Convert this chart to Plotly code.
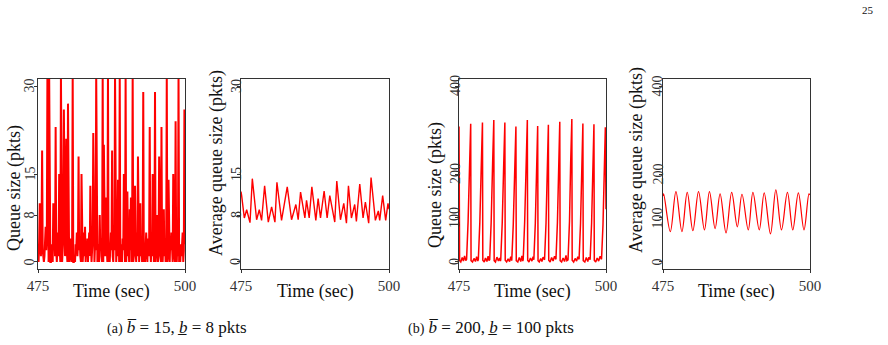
import numpy as np
import plotly.graph_objects as go

# ---------------- data ----------------
# (a) instantaneous queue, sampled every 0.1 s from 475 to 500
queue_a = [
    2, 0, 4, 10, 3, 1, 5, 19, 2, 0,
    0, 1, 3, 6, 2, 4, 32, 3, 0, 32,
    0, 0, 0, 1, 3, 0, 10, 2, 4, 1,
    23, 2, 0, 3, 5, 1, 15, 2, 0, 32,
    0, 0, 2, 4, 26, 3, 1, 5, 21, 2,
    0, 27, 3, 0, 1, 4, 2, 0, 3, 32,
    0, 0, 1, 0, 3, 2, 5, 1, 3, 18,
    2, 4, 1, 0, 15, 3, 0, 2, 5, 1,
    6, 0, 3, 1, 4, 0, 2, 5, 1, 13,
    3, 0, 2, 4, 22, 1, 0, 3, 2, 32,
    0, 0, 1, 3, 0, 8, 2, 4, 1, 0,
    32, 0, 20, 3, 1, 4, 11, 2, 0, 32,
    0, 1, 0, 3, 5, 2, 19, 1, 0, 4,
    2, 32, 9, 0, 3, 1, 14, 2, 0, 32,
    0, 1, 3, 0, 4, 2, 15, 1, 0, 32,
    0, 3, 12, 1, 4, 0, 9, 2, 11, 0,
    3, 32, 0, 1, 4, 13, 2, 0, 5, 1,
    18, 3, 0, 2, 10, 1, 4, 0, 3, 29,
    0, 1, 0, 3, 5, 2, 0, 4, 1, 3,
    23, 2, 0, 4, 1, 15, 3, 0, 2, 29,
    0, 1, 3, 8, 0, 2, 18, 4, 1, 0,
    23, 2, 0, 3, 9, 1, 4, 0, 2, 32,
    0, 1, 14, 3, 0, 4, 2, 5, 1, 0,
    15, 3, 1, 0, 24, 2, 0, 4, 1, 32,
    0, 2, 0, 3, 1, 4, 5, 0, 2, 26, 3,
]
time_a = np.linspace(475, 500, len(queue_a))

# (a) average queue
avg_a_t = [475.0, 475.11, 475.56, 475.96, 476.52, 476.91, 477.64, 478.09, 478.48, 478.99,
           479.61, 480.17, 480.73, 481.07, 481.85, 482.81, 483.54, 484.27, 484.66, 485.06,
           485.79, 486.07, 486.52, 486.97, 487.64, 488.03, 488.43, 489.04, 489.55, 490.0,
           490.84, 491.18, 491.80, 492.36, 492.81, 493.15, 493.65, 494.21, 494.49, 495.06,
           495.62, 496.01, 496.57, 496.97, 497.70, 498.20, 498.43, 498.93, 499.44, 499.83, 500.0]
avg_a_v = [12.0, 11.3, 7.5, 8.9, 6.7, 14.2, 7.2, 8.9, 7.1, 13.0,
           6.8, 9.4, 6.8, 13.6, 7.1, 12.8, 7.2, 9.8, 7.2, 11.9,
           7.5, 10.5, 7.5, 12.8, 7.1, 10.8, 7.5, 12.1, 7.5, 11.3,
           6.8, 13.8, 7.2, 10.0, 6.6, 13.0, 7.5, 9.8, 6.9, 13.3,
           7.5, 10.2, 6.6, 14.4, 7.1, 8.7, 7.1, 11.3, 7.1, 10.0, 9.0]

# (b) instantaneous queue (vertices)
queue_b_t = [475.0, 475.1, 475.3, 475.55, 475.75, 475.95, 476.15,
             476.29, 476.54, 476.79, 476.99, 477.05, 477.3, 477.55, 477.8, 478.0, 478.2,
             478.29, 478.54, 478.79, 478.99, 479.05, 479.3, 479.5, 479.75, 479.95, 480.1,
             480.22, 480.47, 480.72, 480.92, 480.98, 481.2, 481.45, 481.7, 481.9, 482.05,
             482.10, 482.35, 482.60, 482.80, 482.86, 483.1, 483.35, 483.6, 483.8, 483.95,
             483.98, 484.23, 484.48, 484.68, 484.74, 485.0, 485.25, 485.5, 485.7, 485.85,
             485.92, 486.17, 486.42, 486.62, 486.68, 486.9, 487.15, 487.4, 487.6,
             487.73, 487.98, 488.18, 488.38, 488.44, 488.65, 488.9, 489.1, 489.3,
             489.55, 489.8, 490.0, 490.20, 490.26, 490.5, 490.75, 491.0, 491.25,
             491.49, 491.74, 491.94, 492.14, 492.2, 492.45, 492.7, 492.95, 493.2, 493.35,
             493.54, 493.79, 493.99, 494.19, 494.25, 494.5, 494.75, 495.0, 495.2,
             495.42, 495.67, 495.87, 496.07, 496.13, 496.4, 496.65, 496.9, 497.1,
             497.30, 497.55, 497.75, 497.95, 498.01, 498.25, 498.5, 498.75, 499.0,
             499.24, 499.49, 499.69, 499.89, 500.0]
queue_b_v = [308, 3, 0, 10, 2, 14, 3,
             6, 90, 220, 314, 3, 0, 8, 1, 12, 2,
             6, 90, 220, 317, 4, 0, 9, 1, 13, 3,
             5, 90, 225, 323, 3, 0, 11, 2, 9, 2,
             6, 88, 220, 317, 4, 0, 7, 1, 12, 3,
             5, 85, 212, 308, 3, 0, 10, 1, 14, 2,
             6, 92, 225, 323, 4, 0, 9, 2, 12,
             5, 88, 212, 309, 3, 0, 8, 1, 11,
             5, 88, 215, 312, 4, 0, 10, 2, 13,
             6, 90, 220, 319, 3, 0, 9, 1, 15, 3,
             5, 92, 225, 325, 4, 0, 8, 2, 12,
             6, 88, 218, 315, 3, 0, 10, 1, 11,
             5, 88, 216, 313, 4, 0, 9, 2, 13,
             6, 85, 210, 306, 120]

# (b) average queue (alternating extremes)
avg_b_t = [475.0, 475.11, 476.24, 477.20, 478.22, 479.12, 480.08, 481.04, 482.05, 482.90,
           483.86, 484.71, 485.72, 486.68, 487.64, 488.43, 489.50, 490.29, 491.37, 492.21,
           493.28, 494.19, 495.15, 496.16, 497.07, 498.02, 498.98, 499.83, 500.0]
avg_b_v = [150, 155, 69, 160, 69, 158, 71, 160, 73, 160,
           76, 155, 66, 158, 80, 154, 73, 158, 73, 157,
           64, 164, 73, 158, 73, 157, 73, 155, 152]

ticks_a = [0, 8, 15, 30]
ticks_b = [0, 100, 200, 400]
x_ticks = [475, 500]

# ---------------- layout helpers ----------------
W, H = 888, 345
def px_x(p):
    return p / W
def px_y(p):
    return 1 - p / H

panels = [(38, 185), (241, 389), (459, 606), (663, 810)]
ytick_x = [29.5, 236, 455, 657.5]   # centre of the rotated y tick labels
top, bottom = 79, 269
FF = "Liberation Serif"
RED = "#ff0000"

fig = go.Figure()
series = [
    (time_a, queue_a, 2.0, "linear"),
    (avg_a_t, avg_a_v, 1.4, "linear"),
    (queue_b_t, queue_b_v, 1.5, "linear"),
    (avg_b_t, avg_b_v, 1.2, "spline"),
]
for i, (xs, ys, w, shp) in enumerate(series):
    ax = "" if i == 0 else str(i + 1)
    fig.add_trace(go.Scatter(x=xs, y=ys, mode="lines",
                             line=dict(color=RED, width=w, shape=shp),
                             xaxis="x" + ax, yaxis="y" + ax, showlegend=False,
                             hoverinfo="skip"))

layout = dict(width=W, height=H,
              margin=dict(l=0, r=0, t=0, b=0, pad=0, autoexpand=False),
              paper_bgcolor="white", plot_bgcolor="white",
              font=dict(family=FF, color="#222"))
for i, (l, r) in enumerate(panels):
    ax = "" if i == 0 else str(i + 1)
    yr = [-1.2, 31.2] if i < 2 else [-16, 416]
    tv = ticks_a if i < 2 else ticks_b
    layout["xaxis" + ax] = dict(domain=[px_x(l), px_x(r)], range=[475, 500],
                                anchor="y" + ax, tickvals=x_ticks, ticks="outside",
                                ticklen=3, tickcolor="#333", showline=True, mirror=True,
                                linecolor="#333", linewidth=1, showgrid=False,
                                zeroline=False, automargin=False,
                                tickfont=dict(size=15, family=FF, color="#333"))
    layout["yaxis" + ax] = dict(domain=[px_y(bottom), px_y(top)], range=yr,
                                anchor="x" + ax, tickvals=tv, ticks="outside",
                                ticklen=3, tickcolor="#333", showline=True, mirror=True,
                                linecolor="#333", linewidth=1, showgrid=False,
                                zeroline=False, showticklabels=False, automargin=False)
fig.update_layout(**layout)

ann = []
# rotated y tick labels placed at the axis' own tick values
for i, xp in enumerate(ytick_x):
    ax = "" if i == 0 else str(i + 1)
    tv = ticks_a if i < 2 else ticks_b
    for v in tv:
        ann.append(dict(text=str(v), x=px_x(xp), y=v, xref="paper", yref="y" + ax,
                        showarrow=False, textangle=-90, xanchor="center",
                        yanchor="middle", font=dict(size=14, family=FF, color="#333")))
for (l, r) in panels:
    ann.append(dict(text="Time (sec)", x=px_x((l + r) / 2), y=px_y(291), xref="paper",
                    yref="paper", showarrow=False, xanchor="center", yanchor="middle",
                    font=dict(size=18, family=FF, color="#111")))
ylabels = [("Queue size (pkts)", 15, 253), ("Average queue size (pkts)", 216, 258),
           ("Queue size (pkts)", 435, 250), ("Average queue size (pkts)", 637, 255)]
for txt, xp, yb in ylabels:
    ann.append(dict(text=txt, x=px_x(xp), y=px_y(yb), xref="paper", yref="paper",
                    showarrow=False, textangle=-90, xanchor="center", yanchor="bottom",
                    font=dict(size=18, family=FF, color="#111")))
ann.append(dict(text="<span style='font-size:14px'>(a)</span> <i>b\u0305</i> = 15, <i>b\u0332</i> = 8 pkts",
                x=px_x(177), y=px_y(327), xref="paper", yref="paper", showarrow=False,
                xanchor="center", yanchor="middle",
                font=dict(size=17, family=FF, color="#111")))
ann.append(dict(text="<span style='font-size:14px'>(b)</span> <i>b\u0305</i> = 200, <i>b\u0332</i> = 100 pkts",
                x=px_x(491), y=px_y(327), xref="paper", yref="paper", showarrow=False,
                xanchor="center", yanchor="middle",
                font=dict(size=17, family=FF, color="#111")))
ann.append(dict(text="25", x=px_x(868), y=px_y(10), xref="paper", yref="paper",
                showarrow=False, xanchor="center", yanchor="middle",
                font=dict(size=11, family=FF, color="#111")))
fig.update_layout(annotations=ann)

fig.write_html("out.html")
